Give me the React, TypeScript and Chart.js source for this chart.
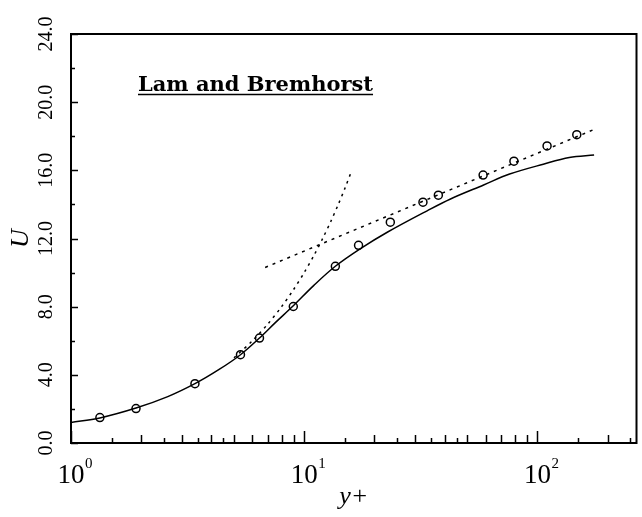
import React, { useEffect, useRef } from "react";
import { Chart, registerables } from "chart.js";

Chart.register(...registerables);

// Measured wall data (open circles)
const DATA_YPLUS = [1.33, 1.9, 3.4, 5.33, 6.43, 8.98, 13.6, 17.1, 23.4, 32.3, 37.6, 58.5, 79.3, 110, 147.5];
const DATA_U = [1.49, 2.02, 3.48, 5.18, 6.16, 8.01, 10.37, 11.6, 12.96, 14.13, 14.54, 15.72, 16.54, 17.43, 18.09];

// Lam and Bremhorst model prediction (solid curve)
const MODEL_YPLUS = [1, 1.33, 1.9, 2.6, 3.4, 4.3, 5.33, 6.43, 7.5, 8.98, 11, 13.6, 17.5, 22.8, 33.8, 42.4, 58.8, 76, 106, 137, 175];
const MODEL_U = [1.2, 1.47, 2.05, 2.72, 3.48, 4.3, 5.18, 6.16, 7.05, 8.05, 9.25, 10.37, 11.42, 12.38, 13.64, 14.32, 15.14, 15.78, 16.36, 16.75, 16.9];

// Viscous sublayer U = y+ (dotted)
const SUBLAYER_YPLUS = [5, 6, 7, 8, 9, 10, 11, 12, 13, 14, 15, 16];
const SUBLAYER_U = [5, 6, 7, 8, 9, 10, 11, 12, 13, 14, 15, 16];

// Log law (dashed straight line on log axis)
const LOGLAW_YPLUS = [6.8, 175];
const LOGLAW_U = [10.3, 18.4];

// Axis ticks
const X_DECADES = [1, 10, 100];
const X_DECADE_BASE = "10";
const X_DECADE_EXP = ["0", "1", "2"];
const X_TICKS = [1, 1.5, 2, 2.5, 3, 3.5, 4, 4.5, 5, 6, 7, 8, 9, 10, 15, 20, 25, 30, 35, 40, 45, 50, 60, 70, 80, 90, 100, 150, 200, 250];
const Y_MAJOR = [0, 4, 8, 12, 16, 20, 24];
const Y_MINOR = [2, 6, 10, 14, 18, 22];

const TITLE = "Lam and Bremhorst";

const SERIF = "'Liberation Serif', 'Times New Roman', serif";

function pairs(xs: number[], ys: number[]) {
  return xs.map((x, i) => ({ x, y: ys[i] }));
}

function xTickLength(v: number): number {
  const lg = Math.log10(v);
  if (Math.abs(lg - Math.round(lg)) < 1e-9) return 12;
  const mant = v / Math.pow(10, Math.floor(lg + 1e-9));
  return Math.abs(mant - Math.round(mant)) < 1e-9 ? 8 : 5;
}

// Box frame plus inward tick marks on both axes
const framePlugin = {
  id: "frameTicks",
  afterDraw(chart: any) {
    const { ctx, chartArea, scales } = chart;
    const { left, right, top, bottom } = chartArea;
    ctx.save();
    ctx.strokeStyle = "#000";
    ctx.lineWidth = 1.5;
    ctx.beginPath();
    X_TICKS.forEach((v) => {
      const px = Math.round(scales.x.getPixelForValue(v)) + 0.5;
      ctx.moveTo(px, bottom);
      ctx.lineTo(px, bottom - xTickLength(v));
    });
    Y_MAJOR.forEach((v) => {
      const py = Math.round(scales.y.getPixelForValue(v)) + 0.5;
      ctx.moveTo(left, py);
      ctx.lineTo(left + 7, py);
    });
    Y_MINOR.forEach((v) => {
      const py = Math.round(scales.y.getPixelForValue(v)) + 0.5;
      ctx.moveTo(left, py);
      ctx.lineTo(left + 4, py);
    });
    ctx.stroke();
    ctx.lineWidth = 2;
    ctx.strokeRect(left, top, right - left, bottom - top);
    ctx.restore();
  },
};

// Decade labels 10^n with a raised, smaller exponent
const decadeLabelPlugin = {
  id: "decadeLabels",
  afterDraw(chart: any) {
    const { ctx, chartArea, scales } = chart;
    const base = chartArea.bottom + 40;
    ctx.save();
    ctx.fillStyle = "#000";
    ctx.textBaseline = "alphabetic";
    X_DECADES.forEach((v, i) => {
      const px = scales.x.getPixelForValue(v);
      ctx.font = `27px ${SERIF}`;
      ctx.textAlign = "center";
      ctx.fillText(X_DECADE_BASE, px, base);
      const w = ctx.measureText(X_DECADE_BASE).width;
      ctx.font = `15px ${SERIF}`;
      ctx.textAlign = "left";
      ctx.fillText(X_DECADE_EXP[i], px + w / 2 + 0.5, base - 15);
    });
    ctx.restore();
  },
};

const titlePlugin = {
  id: "insetTitle",
  afterDraw(chart: any) {
    const { ctx, chartArea } = chart;
    const x0 = chartArea.left + 67;
    const base = chartArea.top + 57;
    ctx.save();
    ctx.font = "bold 21px 'DejaVu Serif', serif";
    ctx.fillStyle = "#000";
    ctx.textBaseline = "alphabetic";
    ctx.textAlign = "left";
    ctx.fillText(TITLE, x0, base);
    const w = ctx.measureText(TITLE).width;
    ctx.strokeStyle = "#000";
    ctx.lineWidth = 1.5;
    ctx.beginPath();
    ctx.moveTo(x0, base + 3.5);
    ctx.lineTo(x0 + w, base + 3.5);
    ctx.stroke();
    ctx.restore();
  },
};

export default function App() {
  const ref = useRef<HTMLCanvasElement | null>(null);

  useEffect(() => {
    const canvas = ref.current;
    if (!canvas) return;
    Chart.defaults.font.family = SERIF;
    Chart.defaults.color = "#000";

    const chart = new Chart(canvas, {
      type: "line",
      data: {
        datasets: [
          {
            label: "data",
            data: pairs(DATA_YPLUS, DATA_U),
            showLine: false,
            pointRadius: 4,
            pointHoverRadius: 4,
            pointStyle: "circle",
            pointBorderWidth: 1.5,
            borderColor: "#000",
            backgroundColor: "rgba(0,0,0,0)",
          },
          {
            label: "model",
            data: pairs(MODEL_YPLUS, MODEL_U),
            borderColor: "#000",
            borderWidth: 1.5,
            pointRadius: 0,
            tension: 0.35,
            fill: false,
          },
          {
            label: "sublayer",
            data: pairs(SUBLAYER_YPLUS, SUBLAYER_U),
            borderColor: "#000",
            borderWidth: 1.5,
            borderDash: [2.5, 4.5],
            pointRadius: 0,
            tension: 0.3,
            fill: false,
          },
          {
            label: "loglaw",
            data: pairs(LOGLAW_YPLUS, LOGLAW_U),
            borderColor: "#000",
            borderWidth: 1.5,
            borderDash: [3, 5],
            pointRadius: 0,
            fill: false,
          },
        ],
      },
      options: {
        responsive: false,
        animation: false,
        events: [],
        layout: { padding: { top: 34, right: 1, left: 0, bottom: 0 } },
        plugins: {
          legend: { display: false },
          tooltip: { enabled: false },
          title: { display: false },
        },
        scales: {
          x: {
            type: "logarithmic",
            min: 1,
            max: 266,
            bounds: "data",
            grid: { display: false, drawTicks: false },
            border: { display: false },
            afterBuildTicks: (scale: any) => {
              scale.ticks = X_DECADES.map((v) => ({ value: v }));
            },
            afterFit: (scale: any) => {
              scale.height = 74;
            },
            ticks: { display: false },
            title: {
              display: true,
              text: "y+",
              color: "#000",
              font: { size: 26, style: "italic", family: SERIF },
              padding: { top: 0, bottom: 4 },
            },
          },
          y: {
            type: "linear",
            min: 0,
            max: 24,
            grid: { display: false, drawTicks: false },
            border: { display: false },
            afterBuildTicks: (scale: any) => {
              scale.ticks = Y_MAJOR.map((v) => ({ value: v }));
            },
            afterFit: (scale: any) => {
              scale.width = 71;
            },
            ticks: {
              minRotation: 90,
              maxRotation: 90,
              crossAlign: "center",
              padding: 7,
              font: { size: 20, family: SERIF },
              color: "#000",
              callback: (value: any) => Number(value).toFixed(1),
            },
            title: {
              display: true,
              text: "U",
              color: "#000",
              font: { size: 26, style: "italic", family: SERIF },
              padding: { top: 6, bottom: 0 },
            },
          },
        },
      },
      plugins: [framePlugin, decadeLabelPlugin, titlePlugin],
    } as any);

    return () => chart.destroy();
  }, []);

  return (
    <div style={{ position: "fixed", left: 0, top: 0, width: 642, height: 517, background: "#fff" }}>
      <canvas ref={ref} width={642} height={517} style={{ display: "block" }} />
    </div>
  );
}
